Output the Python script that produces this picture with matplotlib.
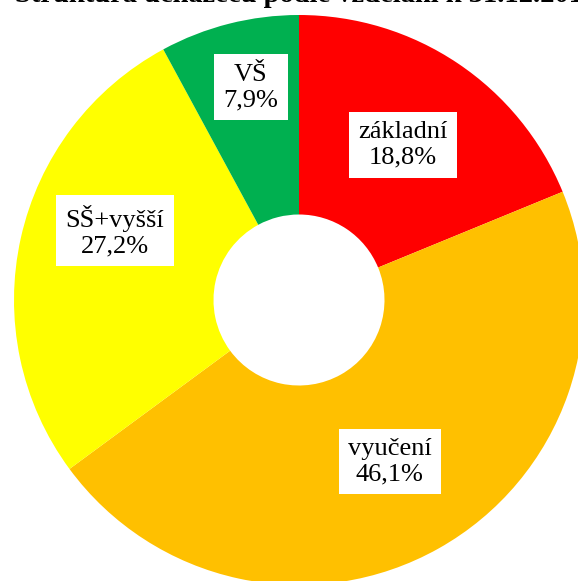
import numpy as np
import matplotlib.pyplot as plt

# data
categories = ['základní', 'vyučení', 'SŠ+vyšší', 'VŠ']
shares = [18.8, 46.1, 27.2, 7.9]
pct_labels = ['18,8%', '46,1%', '27,2%', '7,9%']
colors = ['#FF0000', '#FFC000', '#FFFF00', '#00B050']

# label placement (radius fraction, angle shift from wedge middle)
label_radius = [0.655, 0.65, 0.69, 0.765]
label_shift = [0, 0, -8, -1.5]

title = 'Struktura uchazečů podle vzdělání k 31.12.2018'

plt.rcParams['font.family'] = ['Liberation Serif', 'DejaVu Serif']

W, H = 578, 581
fig = plt.figure(figsize=(W / 100, H / 100), dpi=100)
ax = fig.add_axes([0, 0, 1, 1])

R = 285.0
cx, cy = 299.0, 300.0  # pie centre in pixels from top-left

wedges, _ = ax.pie(shares, colors=colors, startangle=90, counterclock=False,
                   radius=1.0, wedgeprops=dict(width=0.70, linewidth=0),
                   center=(0, 0))

for w, name, pct, r, s in zip(wedges, categories, pct_labels, label_radius, label_shift):
    ang = np.deg2rad((w.theta1 + w.theta2) / 2 + s)
    ax.text(r * np.cos(ang), r * np.sin(ang), f'{name}\n{pct}',
            ha='center', va='center', fontsize=19, linespacing=1.2,
            bbox=dict(boxstyle='square,pad=0.35', fc='white', ec='none'))

ax.set_xlim(-cx / R, (W - cx) / R)
ax.set_ylim(-(H - cy) / R, cy / R)
ax.set_aspect('equal')
ax.axis('off')

fig.text(15 / W, 1 - 2 / H, title, ha='left', va='baseline',
         fontsize=20.5, fontweight='bold')

fig.savefig('out.png', dpi=100)
